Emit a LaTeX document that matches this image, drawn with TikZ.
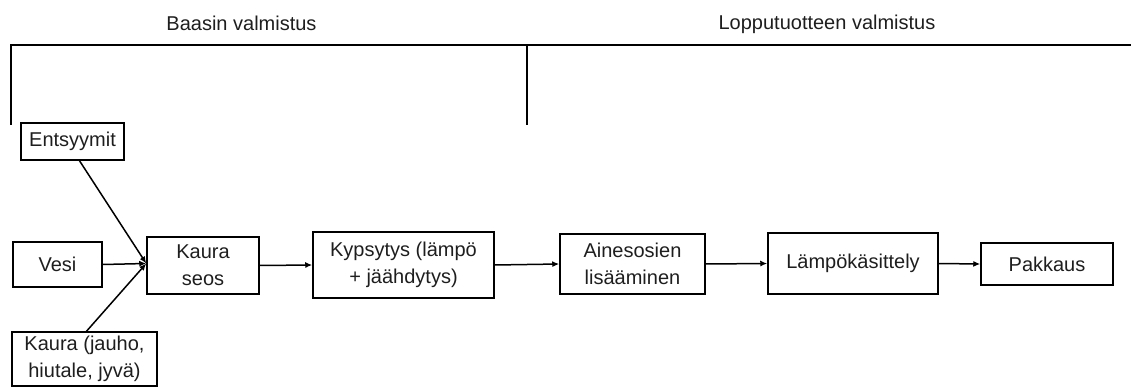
\documentclass[tikz,border=0pt]{standalone}
\usepackage{fontspec}
\setmainfont{Liberation Sans}
\usetikzlibrary{arrows.meta,calc}
\definecolor{ink}{HTML}{1E1E1E}
\tikzset{
  stepbox/.style={draw=black, line width=1.5pt, align=center, inner sep=0pt,
    text=ink, font=\fontsize{20}{27}\selectfont},
  phase/.style={text=ink, font=\fontsize{20}{27}\selectfont, inner sep=0pt},
  flow/.style={draw=black, line width=1.5pt, -{Latex[length=7pt,width=6pt]}},
  bracket/.style={draw=black, line width=2pt}
}
\begin{document}
\begin{tikzpicture}[x=1pt, y=-1pt]
  \useasboundingbox (0,0) rectangle (1131,387);

  % phase bracket across the top
  \coordinate (bl) at (11,125);
  \coordinate (tl) at (11,45);
  \coordinate (tr) at (1131,45);
  \coordinate (mt) at (527,45);
  \coordinate (mb) at (527,125);
  \draw[bracket] (bl) -- (tl) -- (tr);
  \draw[bracket] (mt) -- (mb);
  \node[phase] (p1) at (241.5,23) {Baasin valmistus};
  \node[phase] (p2) at (827,24) {Lopputuotteen valmistus};

  % ingredients
  \node[stepbox, minimum width=103pt, minimum height=37pt] (ent) at (72.5,141.5) {Entsyymit};
  \node[stepbox, minimum width=89pt, minimum height=45pt] (vesi) at (57.5,264.5) {Vesi};
  \node[stepbox, minimum width=145pt, minimum height=54pt] (kaura) at (84.5,359) {Kaura (jauho,\\hiutale, jyvä)};

  % process chain
  \node[stepbox, minimum width=112pt, minimum height=57pt] (seos) at (203,265.5) {Kaura\\seos};
  \node[stepbox, minimum width=181pt, minimum height=66pt] (kyp) at (403.5,265) {Kypsytys (lämpö\\+ jäähdytys)};
  \node[stepbox, minimum width=145pt, minimum height=60pt] (aine) at (632.5,264) {Ainesosien\\lisääminen};
  \node[stepbox, minimum width=170pt, minimum height=61pt] (lampo) at (853,263.5) {Lämpökäsittely};
  \node[stepbox, minimum width=132pt, minimum height=42pt] (pak) at (1047,264) {Pakkaus};

  % connectors
  \coordinate (in) at ($(seos.west)+(0,-2)$);
  \draw[flow] ($(ent.south)+(7,0)$) -- (in);
  \draw[flow] (vesi.east) -- (in);
  \draw[flow] ($(kaura.north)+(2,0)$) -- (in);
  \draw[flow] (seos.east) -- (kyp.west);
  \draw[flow] (kyp.east) -- (aine.west);
  \draw[flow] (aine.east) -- (lampo.west);
  \draw[flow] (lampo.east) -- (pak.west);
\end{tikzpicture}
\end{document}
